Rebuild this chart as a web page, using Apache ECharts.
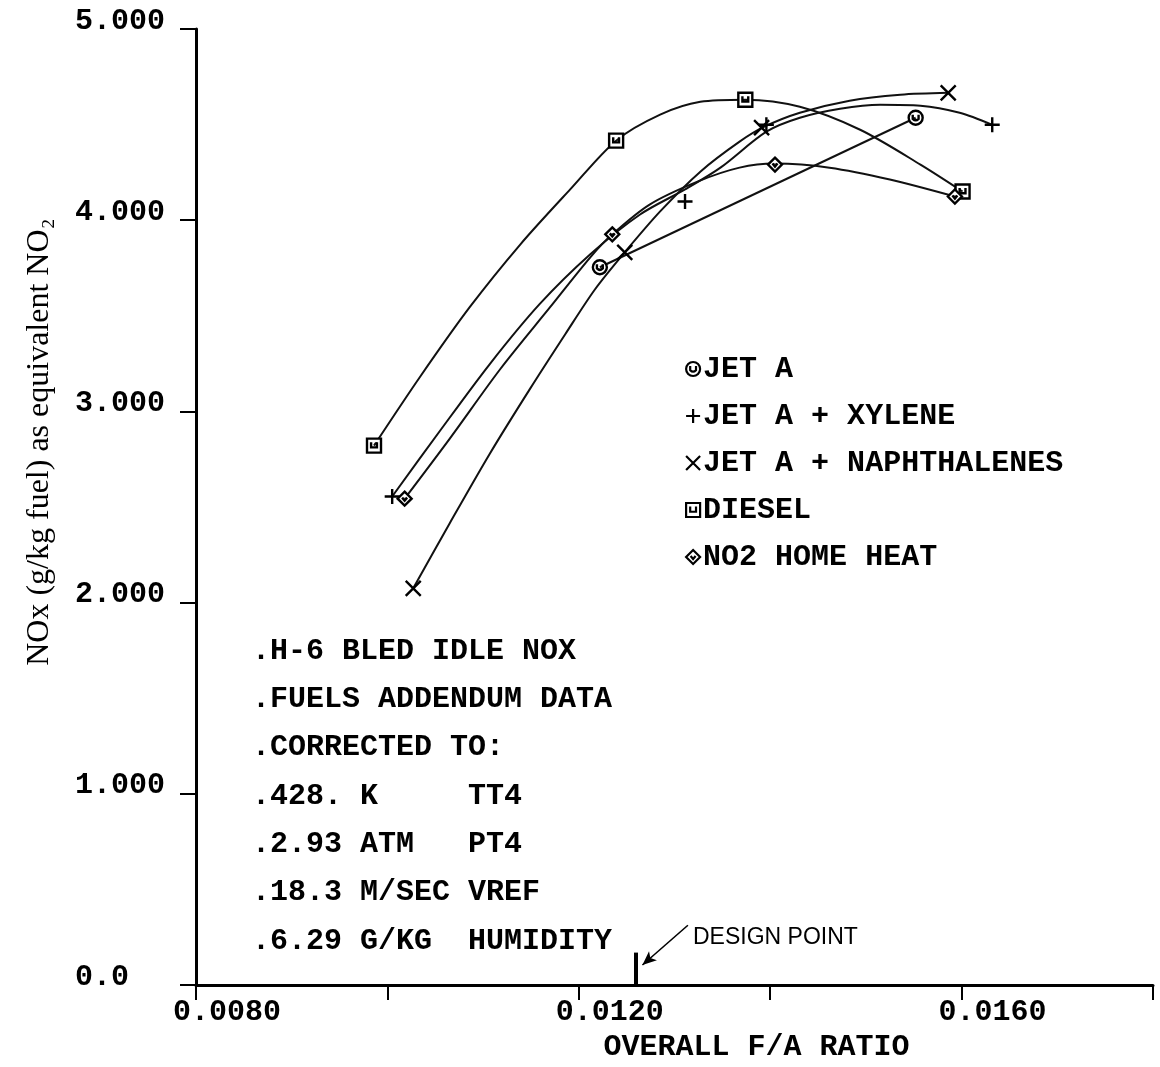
<!DOCTYPE html>
<html>
<head>
<meta charset="utf-8">
<script src="https://cdn.jsdelivr.net/npm/echarts@6/dist/echarts.min.js"></script>
<style>html,body{margin:0;padding:0;background:#fff}#c{width:1160px;height:1067px}</style>
</head>
<body>
<div id="c"></div>
<script>
// ---- data: measured points (markers) ----
const seriesNames = ['JET A', 'JET A + XYLENE', 'JET A + NAPHTHALENES', 'DIESEL', 'NO2 HOME HEAT'];
const jetA = [[0.01222, 3.754], [0.01552, 4.536]];
const jetAXylene = [[0.01005, 2.555], [0.01311, 4.098], [0.01396, 4.499], [0.01632, 4.499]];
const jetANaph = [[0.01027, 2.075], [0.01248, 3.832], [0.01391, 4.484], [0.01586, 4.666]];
const diesel = [[0.00986, 2.821], [0.01239, 4.416], [0.01374, 4.630], [0.01601, 4.150]];
const homeHeat = [[0.01018, 2.544], [0.01235, 3.926], [0.01405, 4.291], [0.01593, 4.124]];

// ---- data: fitted curves ----
const jetACurve = [[0.01222, 3.754], [0.01552, 4.536]];
const xyleneCurve = [[0.01005, 2.555], [0.01055, 2.899], [0.01107, 3.248], [0.01159, 3.561], [0.01212, 3.822],
  [0.01264, 4.030], [0.01311, 4.161], [0.01348, 4.275], [0.01396, 4.463], [0.01431, 4.536], [0.01473, 4.583],
  [0.01515, 4.604], [0.01557, 4.599], [0.01598, 4.562], [0.01632, 4.499]];
const naphCurve = [[0.01027, 2.075], [0.01065, 2.414], [0.01107, 2.779], [0.01149, 3.118], [0.01186, 3.405],
  [0.01217, 3.639], [0.01248, 3.832], [0.01285, 4.046], [0.01327, 4.254], [0.01368, 4.411], [0.01394, 4.489],
  [0.01431, 4.562], [0.01483, 4.625], [0.01536, 4.656], [0.01586, 4.666]];
const dieselCurve = [[0.00986, 2.821], [0.01034, 3.180], [0.01086, 3.545], [0.01139, 3.874], [0.01191, 4.161],
  [0.01239, 4.416], [0.01285, 4.552], [0.01327, 4.619], [0.01374, 4.630], [0.01431, 4.593], [0.01494, 4.473],
  [0.01557, 4.291], [0.01601, 4.150]];
const homeHeatCurve = [[0.01018, 2.544], [0.01065, 2.857], [0.01118, 3.222], [0.01170, 3.545], [0.01212, 3.806],
  [0.01235, 3.926], [0.01274, 4.082], [0.01324, 4.202], [0.01368, 4.275], [0.01405, 4.296], [0.01462, 4.275],
  [0.01525, 4.213], [0.01593, 4.124]];

const xTickValues = [0.008, 0.012, 0.016];
const xTickLabels = ['0.0080', '0.0120', '0.0160'];
const yTickValues = [0, 1, 2, 3, 4, 5];
const yTickLabels = ['0.0', '1.000', '2.000', '3.000', '4.000', '5.000'];
const designPoint = 0.0126;
const notes = ['.H-6 BLED IDLE NOX', '.FUELS ADDENDUM DATA', '.CORRECTED TO:', '.428. K     TT4',
  '.2.93 ATM   PT4', '.18.3 M/SEC VREF', '.6.29 G/KG  HUMIDITY'];

// ---- styles ----
const MONO = '"Liberation Mono", "DejaVu Sans Mono", monospace';
const sym = {
  circ: 'path://M0,-6A6,6 0 1,1 0,6A6,6 0 1,1 0,-6ZM-2.5,-2.5L-2.5,1Q0,3.5 2.5,1L2.5,-2.5',
  plus: 'path://M-6,0L6,0M0,-6L0,6',
  cross: 'path://M-6,-6L6,6M-6,6L6,-6',
  sq: 'path://M-6,-6L6,-6L6,6L-6,6ZM-2.5,-3L-2.5,1.5L2.5,1.5L2.5,-3',
  dia: 'path://M0,-7L7,0L0,7L-7,0ZM-2.5,-1L0,2L2.5,-1'
};
const symbols = [sym.circ, sym.plus, sym.cross, sym.sq, sym.dia];
const points = [jetA, jetAXylene, jetANaph, diesel, homeHeat];
const curves = [jetACurve, xyleneCurve, naphCurve, dieselCurve, homeHeatCurve];

const chart = echarts.init(document.getElementById('c'), null, {renderer: 'canvas'});

const series = [];
curves.forEach((d, i) => series.push({
  name: seriesNames[i], type: 'line', data: d, smooth: 0.3, symbol: 'none',
  lineStyle: {color: '#111', width: 2}, emphasis: {disabled: true}, silent: true, z: 2
}));
points.forEach((d, i) => series.push({
  name: seriesNames[i], type: 'scatter', data: d, symbol: symbols[i],
  symbolSize: i === 1 || i === 2 ? 15 : 14,
  itemStyle: {color: '#fff', borderColor: '#000', borderWidth: 2.4, opacity: 1},
  emphasis: {disabled: true}, silent: true, z: 3
}));

series.push({
  type: 'line', data: [], silent: true,
  markLine: {
    silent: true, animation: false, label: {show: false},
    lineStyle: {type: 'solid', color: '#000'},
    data: [
      [{coord: [designPoint, 0], symbol: 'none'}, {coord: [designPoint, 0.17], symbol: 'none', lineStyle: {width: 4, color: '#000'}}],
      [{coord: [0.01314, 0.313], symbol: 'none'}, {coord: [0.012665, 0.105], symbol: 'arrow', symbolSize: [9, 14], lineStyle: {width: 1.6, color: '#000'}}]
    ]
  }
});

function fmtX(v) {
  for (let i = 0; i < xTickValues.length; i++) if (Math.abs(v - xTickValues[i]) < 1e-9) return xTickLabels[i];
  return '';
}
function fmtY(v) {
  for (let i = 0; i < yTickValues.length; i++)
    if (Math.abs(v - yTickValues[i]) < 1e-9) return '{a|' + yTickLabels[i].padEnd(5, ' ') + '}';
  return '';
}

chart.setOption({
  animation: false,
  backgroundColor: '#fff',
  grid: {left: 196, right: 7, top: 29, bottom: 79, containLabel: false},
  xAxis: {
    type: 'value', min: 0.008, max: 0.018, interval: 0.002,
    name: 'OVERALL F/A RATIO', nameLocation: 'middle', nameGap: 46,
    nameTextStyle: {fontFamily: MONO, fontWeight: 'bold', fontSize: 30, color: '#000', padding: [0, 0, 0, 164]},
    axisLine: {show: true, onZero: false, lineStyle: {color: '#000', width: 3}},
    axisTick: {show: true, inside: false, length: 15, lineStyle: {color: '#000', width: 2}},
    axisLabel: {formatter: fmtX, fontFamily: MONO, fontWeight: 'bold', fontSize: 30, color: '#000', margin: 12,
      padding: [0, 0, 0, 62], showMinLabel: true, showMaxLabel: true},
    splitLine: {show: false}
  },
  yAxis: {
    type: 'value', min: 0, max: 5, interval: 1,
    name: 'NOx (g/kg fuel) as equivalent NO\u2082', nameLocation: 'middle', nameGap: 140, nameRotate: 90,
    nameTextStyle: {fontFamily: '"Liberation Serif", "DejaVu Serif", serif', fontSize: 32, color: '#000', padding: [0, 0, 0, 130]},
    axisLine: {show: true, onZero: false, lineStyle: {color: '#000', width: 3}},
    axisTick: {show: true, inside: false, length: 16, lineStyle: {color: '#000', width: 2}},
    axisLabel: {formatter: fmtY, margin: 31,
      rich: {a: {fontFamily: MONO, fontWeight: 'bold', fontSize: 30, color: '#000', padding: [0, 0, 16, 0]}}},
    splitLine: {show: false}
  },
  legend: {
    orient: 'vertical', left: 680, top: 349, itemGap: 17,
    itemWidth: 14, itemHeight: 14,
    data: seriesNames.map((n, i) => ({name: n, icon: symbols[i]})),
    itemStyle: {color: '#fff', borderColor: '#000', borderWidth: 2.2},
    textStyle: {fontFamily: MONO, fontWeight: 'bold', fontSize: 30, color: '#000', padding: [0, 0, 0, -2]},
    selectedMode: false
  },
  graphic: [
    {type: 'text', left: 252, top: 627, silent: true,
     style: {text: notes.join('\n'), font: 'bold 30px ' + MONO, lineHeight: 48.3, fill: '#000'}},
    {type: 'text', left: 693, top: 926, silent: true,
     style: {text: 'DESIGN POINT', font: '23px "Liberation Sans", Arial, sans-serif', fill: '#000'}}
  ],
  series: series
});
</script>
</body>
</html>
